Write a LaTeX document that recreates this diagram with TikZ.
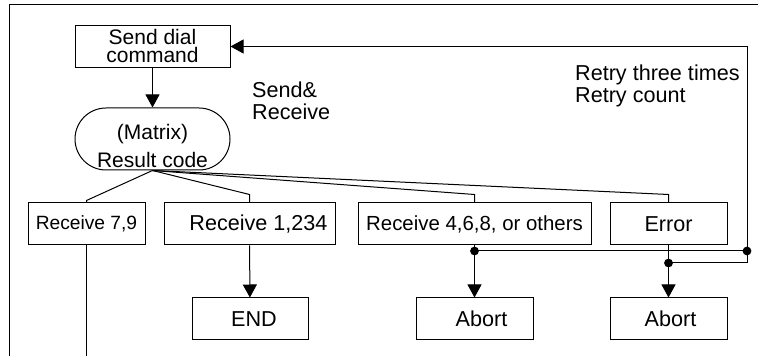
\documentclass[tikz,border=0pt]{standalone}
\usepackage{fontspec}
\setmainfont{Liberation Sans}
\usetikzlibrary{arrows.meta,shapes.misc}
\begin{document}
\begin{tikzpicture}[x=0.5pt,y=-0.5pt,line width=0.5pt,
    font=\fontsize{10.8}{11}\selectfont,
    box/.style={draw,inner sep=0pt,minimum height=21pt},
    small/.style={font=\fontsize{9.6}{11}\selectfont},
    arr/.style={-{Triangle[length=6.5pt,width=7pt]}}]
      \useasboundingbox (0,0) rectangle (758,356);
      \draw (758,5) -- (9,5) -- (9,356);

      % TOP
      \node[box,minimum width=77.5pt,align=center,font=\fontsize{10.5}{9}\selectfont]
        (send) at (152.5,46.5) {Send dial\\command};
      \node[draw,rounded rectangle,inner sep=0pt,minimum width=77.5pt,minimum height=31pt]
        (matrix) at (152.5,139) {};
      \node[align=center,font=\fontsize{10.5}{14}\selectfont]
        (matrixtxt) at (152.5,146) {(Matrix)\\Result code};

      % RESULTS
      \node[box,small,minimum width=58.5pt] (r79) at (86.5,224) {Receive 7,9};
      \node[box,minimum width=85.5pt] (r1234) at (249.5,224) {\hspace{9pt}Receive 1,234};
      \node[box,font=\fontsize{10.2}{11}\selectfont,minimum width=116.5pt]
        (r468) at (474.5,224) {Receive 4,6,8, or others};
      \node[box,minimum width=58.5pt] (err) at (668.5,224) {Error};

      \node[box,minimum width=58pt]   (endb) at (250,319)   {\hspace{4pt}END};
      \node[box,minimum width=58.5pt] (ab1)  at (474.5,319) {\hspace{7pt}Abort};
      \node[box,minimum width=58.5pt] (ab2)  at (668.5,319) {\hspace{2pt}Abort};

      % NOTES
      \node[anchor=west,align=left] (sr) at (245,101) {Send\&\\Receive};
      \node[anchor=west,align=left] (retry) at (568,86) {Retry three times\\Retry count};

      \coordinate (d1) at (474.5,251);
      \coordinate (d2) at (668.5,263);
      \coordinate (d3) at (747,251);
      \coordinate (bot) at (0,356);

      % ARROWS
      \draw[arr] (send) -- (matrix);
      \draw (matrix.south) -- ([yshift=1pt]r79.north) -- (r79.north);
      \draw (matrix.south) -- ([yshift=4pt]r1234.north) -- (r1234.north);
      \draw (matrix.south) -- ([yshift=4pt]r468.north) -- (r468.north);
      \draw (matrix.south) -- ([yshift=4pt]err.north) -- (err.north);

      \draw (r79) -- (r79.south |- bot);
      \draw[arr] (r1234) -- (endb);
      \draw (r468) -- (d1);
      \draw[arr] (d1) -- (ab1);
      \draw (err) -- (d2);
      \draw[arr] (d2) -- (ab2);
      \draw (d1) -- (d3);
      \draw (d2) -| (d3);
      \draw[arr] (d3) |- (send);
      \foreach \d in {d1,d2,d3}
        \fill (\d) circle (2.2pt);
\end{tikzpicture}
\end{document}
